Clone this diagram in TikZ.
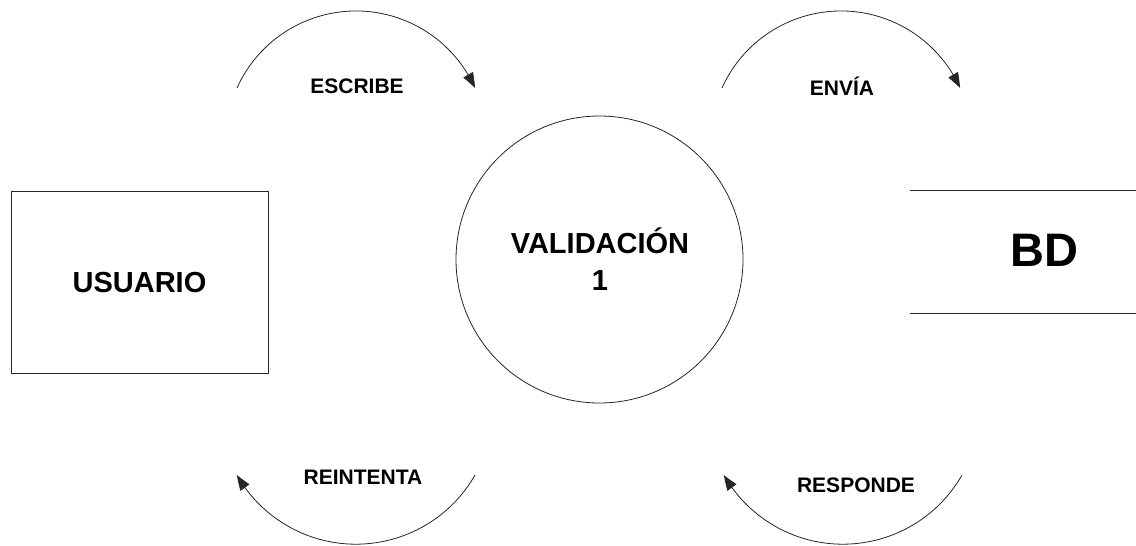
\documentclass[tikz,border=0pt]{standalone}
\usepackage{fontspec}
\setmainfont{Liberation Sans}
\usetikzlibrary{arrows.meta,bending}
\begin{document}
\begin{tikzpicture}[x=1pt,y=-1pt,
  line/.style={draw=black!85,line width=0.8pt},
  flow/.style={line,-{Triangle[length=15pt,width=11pt,bend]}},
  lbl/.style={font=\fontsize{21}{24}\selectfont\bfseries,inner sep=0pt},
  big/.style={font=\fontsize{29}{37}\selectfont\bfseries,align=center,inner sep=0pt}]
\useasboundingbox[fill=white] (0,0) rectangle (1136,546);
% nodes
\node[line,minimum width=257pt,minimum height=182pt,inner sep=0pt] (usuario) at (139.5,282) {};
\node[big] (usuariotxt) at (139.5,283) {USUARIO};
\node[line,circle,minimum size=287pt,inner sep=0pt] (valid) at (599.5,259.5) {};
\node[big] (validtxt) at (600,259) {VALIDACIÓN\\1};
\node[minimum width=226pt,minimum height=122pt,inner sep=0pt] (bd) at (1023,252) {};
\node[font=\fontsize{47}{50}\selectfont\bfseries,inner sep=0pt] (bdtxt) at (1044,250) {BD};
\draw[line] (bd.north west) -- (bd.north east);
\draw[line] (bd.south west) -- (bd.south east);
% flow endpoints
\coordinate (e1) at (237,88);
\coordinate (e2) at (722,88);
\coordinate (r1) at (475,475);
\coordinate (r2) at (962,475);
% flows
\draw[flow] (e1) arc[start angle=-155.8,end angle=-24.2,radius=130.5];
\draw[flow] (e2) arc[start angle=-155.8,end angle=-24.2,radius=130.5];
\draw[flow] (r1) arc[start angle=29.7,end angle=150.3,radius=137.1];
\draw[flow] (r2) arc[start angle=29.7,end angle=150.3,radius=137.1];
% labels
\node[lbl] (escribe) at (357,86) {ESCRIBE};
\node[lbl] (envia) at (842,86) {ENVÍA};
\node[lbl] (reintenta) at (363,477) {REINTENTA};
\node[lbl] (responde) at (856,485) {RESPONDE};
\end{tikzpicture}
\end{document}
